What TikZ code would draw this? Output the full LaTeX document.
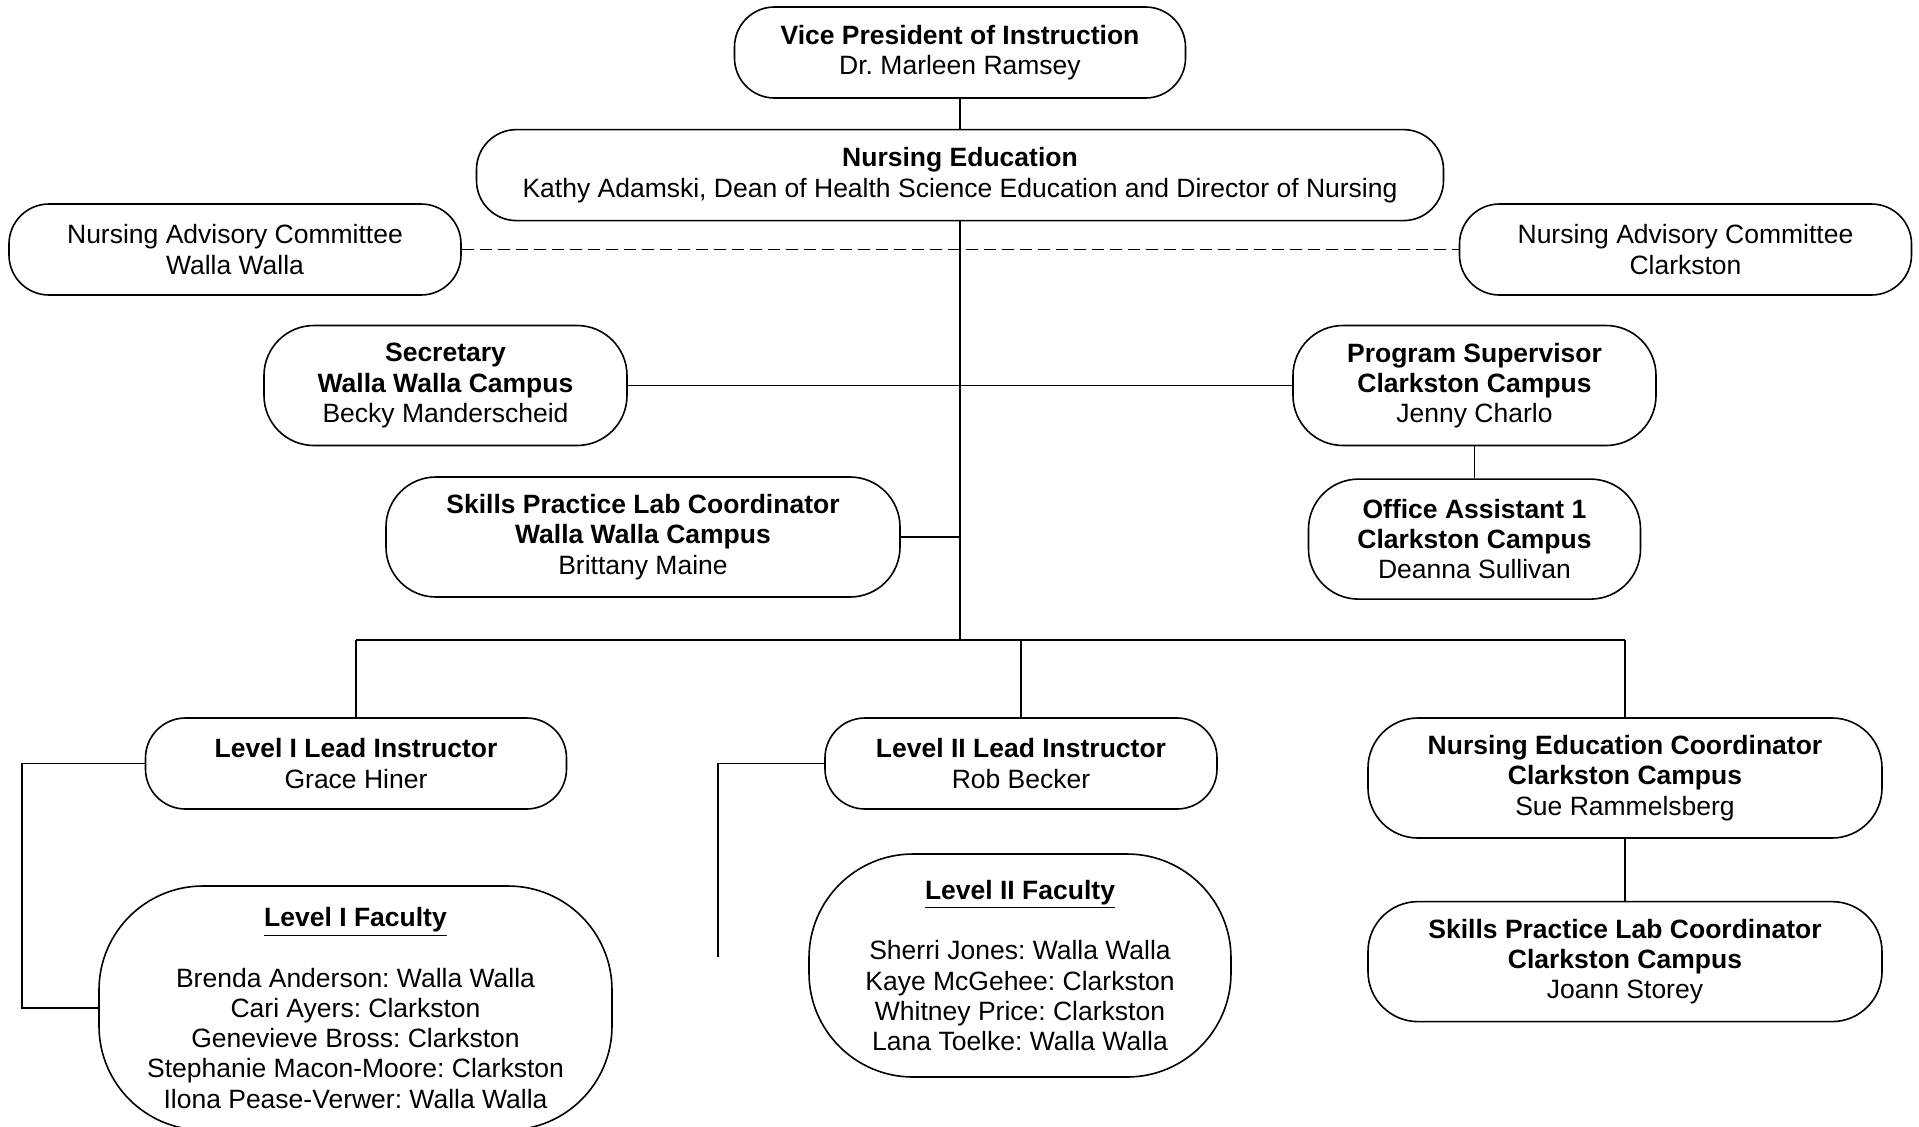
\documentclass[tikz,border=0pt]{standalone}
\usepackage{fontspec}
\setmainfont{Liberation Sans}
\frenchspacing
\usetikzlibrary{positioning}

\begin{document}
\begin{tikzpicture}[
  x=0.5pt, y=-0.5pt,
  font=\fontsize{13.25pt}{15.1pt}\selectfont,
  line width=0.8pt,
  box/.style={draw, rounded corners=20pt, align=center, inner sep=0pt, minimum height=45.5pt},
  tallbox/.style={box, rounded corners=25pt, minimum height=60pt},
  facbox/.style={box, rounded corners=52pt},
  advlink/.style={dash pattern=on 6pt off 3pt}
]
\useasboundingbox (0,0) rectangle (1919,1126);
\clip (0,0) rectangle (1919,1126);
\node[box, minimum width=225.5pt] (vp) at (960,52.5) {\textbf{Vice President of Instruction}\\Dr. Marleen Ramsey};
\node[box, minimum width=483.5pt, below=15pt of vp] (ne) {\textbf{Nursing Education}\\Kathy Adamski, Dean of Health Science Education and Director of Nursing};
\node[box, minimum width=226pt] (nacww) at (235,249.5) {Nursing Advisory Committee\\Walla Walla};
\node[box, minimum width=226pt] (naccl) at (1685.5,249.5) {Nursing Advisory Committee\\Clarkston};
\node[tallbox, minimum width=181.5pt] (sec) at (445.5,385.5) {\textbf{Secretary}\\\textbf{Walla Walla Campus}\\Becky Manderscheid};
\node[tallbox, minimum width=181.5pt] (ps) at (1474.5,385.5) {\textbf{Program Supervisor}\\\textbf{Clarkston Campus}\\Jenny Charlo};
\node[tallbox, minimum width=166pt, below=16pt of ps] (oa) {\textbf{Office Assistant 1}\\\textbf{Clarkston Campus}\\Deanna Sullivan};
\node[tallbox, minimum width=257pt] (splww) at (643,537) {\textbf{Skills Practice Lab Coordinator}\\\textbf{Walla Walla Campus}\\Brittany Maine};
\node[box, minimum width=210.5pt] (l1) at (356,763.5) {\textbf{Level I Lead Instructor}\\Grace Hiner};
\node[box, minimum width=196pt] (l2) at (1021,763.5) {\textbf{Level II Lead Instructor}\\Rob Becker};
\node[tallbox, minimum width=257pt] (nec) at (1625,778) {\textbf{Nursing Education Coordinator}\\\textbf{Clarkston Campus}\\Sue Rammelsberg};
\node[tallbox, minimum width=257pt, below=31pt of nec] (splcl) {\textbf{Skills Practice Lab Coordinator}\\\textbf{Clarkston Campus}\\Joann Storey};
\node[facbox, minimum width=256.5pt, minimum height=122pt] (l1fac) at (355.5,1008) {\underline{\textbf{Level I Faculty}}\\[15.1pt]Brenda Anderson: Walla Walla\\Cari Ayers: Clarkston\\Genevieve Bross: Clarkston\\Stephanie Macon-Moore: Clarkston\\Ilona Pease-Verwer: Walla Walla};
\node[facbox, minimum width=211pt, minimum height=111.5pt] (l2fac) at (1020,965.5) {\underline{\textbf{Level II Faculty}}\\[15.1pt]Sherri Jones: Walla Walla\\Kaye McGehee: Clarkston\\Whitney Price: Clarkston\\Lana Toelke: Walla Walla};
\coordinate (bus) at (960,640);
\coordinate (l2end) at (718,957);
\draw (vp) -- (ne);
\draw[advlink] (nacww) -- (naccl);
\draw (ne) -- (bus);
\draw (sec) -- (ps);
\draw (ps) -- (oa);
\draw (splww.east) -- (splww.east -| bus);
\draw (bus -| l1) -- (bus -| nec);
\draw (bus -| l1) -- (l1);
\draw (bus -| l2) -- (l2);
\draw (bus -| nec) -- (nec);
\draw (nec) -- (splcl);
\draw (l1.west) -- ++(-123,0) |- (l1fac.west);
\draw (l2.west) -| (l2end);
\end{tikzpicture}
\end{document}
